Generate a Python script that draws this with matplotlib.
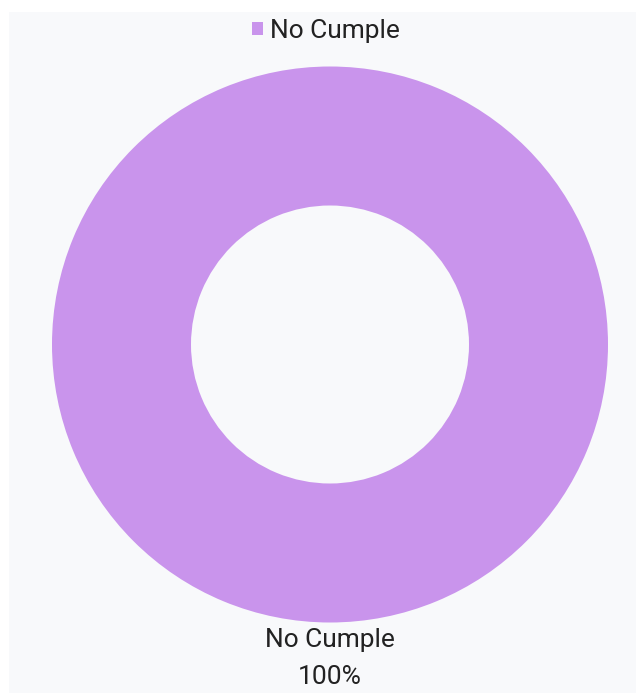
import matplotlib.pyplot as plt
from matplotlib.patches import Rectangle

categories = ['No Cumple']
values = [100]
colors = ['#C994EC']

W, H = 644, 693
plt.rcParams['font.family'] = ['Roboto', 'DejaVu Sans']

fig = plt.figure(figsize=(W / 100, H / 100), dpi=100)
fig.patch.set_facecolor('white')
# light panel behind the chart
fig.patches.append(Rectangle((9 / W, 0), 627 / W, (H - 12) / H,
                             transform=fig.transFigure, facecolor='#F8F9FB',
                             edgecolor='none', zorder=-5))

cx, cy, r = 330, 344.5, 278
ax = fig.add_axes([(cx - r) / W, (H - cy - r) / H, 2 * r / W, 2 * r / H])
ax.set_facecolor('none')
ax.set_zorder(1)

total = sum(values)
labels = [f'{c}\n{v / total * 100:.0f}%' for c, v in zip(categories, values)]
wedges, texts = ax.pie(values, colors=colors, labels=labels, startangle=90,
                       labeldistance=1.02, radius=1,
                       wedgeprops=dict(width=0.5, linewidth=0),
                       textprops=dict(fontsize=19, color='#222222',
                                      linespacing=1.7))
for t in texts:
    t.set_ha('center')
    t.set_va('top')
ax.set_xlim(-1, 1)
ax.set_ylim(-1, 1)
ax.set_aspect('equal')
ax.axis('off')

leg = fig.legend(wedges, categories, loc='center',
                 bbox_to_anchor=(326 / W, 1 - 31 / H), frameon=False,
                 fontsize=19, handlelength=0.4, handleheight=0.4,
                 handletextpad=0.25, labelcolor='#222222')
leg.set_zorder(2)

fig.savefig('out.png', dpi=100, facecolor=fig.get_facecolor())
